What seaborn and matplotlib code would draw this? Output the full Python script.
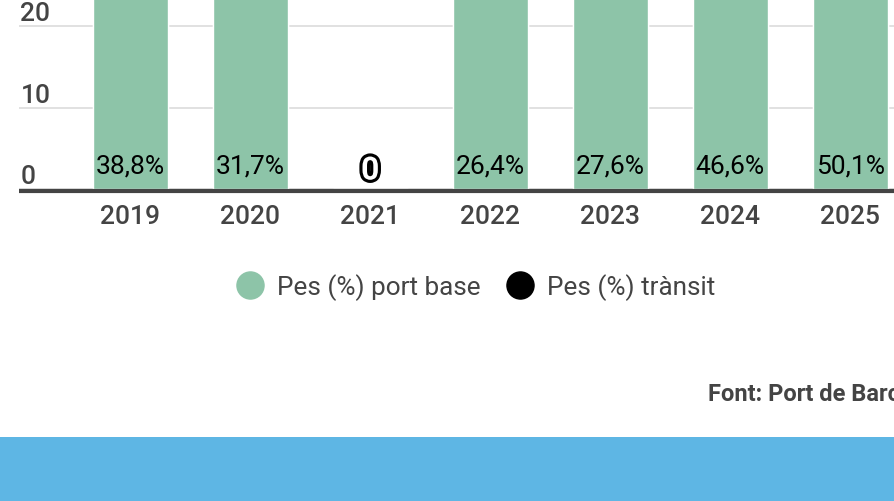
import matplotlib
matplotlib.use("Agg")
import matplotlib.pyplot as plt
import matplotlib.patheffects as pe
from matplotlib.lines import Line2D
import seaborn as sns
import pandas as pd

# ---- data ----
years = ["2019", "2020", "2021", "2022", "2023", "2024", "2025"]
port_base = [38.8, 31.7, 0.0, 26.4, 27.6, 46.6, 50.1]
transit = [61.2, 68.3, 0.0, 73.6, 72.4, 53.4, 49.9]
y_ticks = [0, 10, 20]
series_names = ["Pes (%) port base", "Pes (%) tr\u00e0nsit"]
source_text = "Font: Port de Barcelona"

GREEN = "#8dc4a8"
BLACK = "#000000"
GREY_TXT = "#444444"
BLUE = "#5eb6e4"

sns.set_style("white")
plt.rcParams["font.family"] = ["Roboto", "DejaVu Sans"]

df = pd.DataFrame({"year": years, "base": port_base, "transit": transit})
df["total"] = df["base"] + df["transit"]

W, H = 895, 502
fig = plt.figure(figsize=(W / 100, H / 100), dpi=100)
fig.patch.set_facecolor("white")

base_px = 190.0
ax = fig.add_axes([19 / W, (H - base_px) / H, 1 - 19 / W, base_px / H])

sns.barplot(data=df, x="year", y="total", color=BLACK, saturation=1,
            width=0.625, errorbar=None, ax=ax, zorder=2)
sns.barplot(data=df, x="year", y="base", color=GREEN, saturation=1,
            width=0.625, errorbar=None, ax=ax, zorder=3)

px_per_unit = 8.15
ax.set_ylim(0, base_px / px_per_unit)
ax.set_xlim((19 - 130.2) / 120, (W - 130.2) / 120)

ax.set_yticks(y_ticks)
ax.set_yticklabels([])
ax.yaxis.grid(True, color="#dcdcdc", linewidth=1.2, zorder=0)
ax.set_axisbelow(True)
ax.tick_params(axis="y", length=0)
ax.tick_params(axis="x", length=0, pad=11, labelsize=19, labelcolor=GREY_TXT)
for t in ax.get_xticklabels():
    t.set_fontweight("medium")
ax.set_xlabel("")
ax.set_ylabel("")
for s in ax.spines.values():
    s.set_visible(False)

# y labels above gridlines, left aligned
for t in y_ticks:
    ax.annotate(str(t), xy=(0, t), xycoords=("axes fraction", "data"),
                xytext=(1, 0.5), textcoords="offset points",
                ha="left", va="bottom", fontsize=19, color=GREY_TXT,
                fontweight="medium")

# bar value labels
for i, v in enumerate(port_base):
    if v == 0:
        ax.annotate("0", xy=(i, 0), xytext=(0, 13.3), textcoords="offset points",
                    ha="center", va="center", fontsize=23, fontweight="bold",
                    color="white", zorder=6,
                    path_effects=[pe.Stroke(linewidth=4.5, foreground="black"), pe.Normal()])
    else:
        lab = f"{v:.1f}%".replace(".", ",")
        ax.annotate(lab, xy=(i, 0), xytext=(0, 17.2), textcoords="offset points",
                    ha="center", va="center", fontsize=19, color="black", zorder=6)

# baseline
fig.add_artist(Line2D([19 / W, 1], [1 - 191.8 / H, 1 - 191.8 / H],
                      color="#444444", linewidth=3.0, solid_capstyle="butt", zorder=10))

# legend
handles = [Line2D([], [], marker="o", linestyle="", markersize=19.5,
                  markerfacecolor=c, markeredgecolor=c) for c in (GREEN, BLACK)]
leg = fig.legend(handles, series_names, loc="center",
                 bbox_to_anchor=(476 / W, 1 - 288 / H), ncol=2, frameon=False,
                 handlelength=1.0, handletextpad=0.55,
                 columnspacing=1.0, borderaxespad=0, borderpad=0,
                 prop={"size": 18.8, "weight": "regular"})
for t in leg.get_texts():
    t.set_color(GREY_TXT)

# source
fig.text(708 / W, 1 - 395 / H, source_text, ha="left", va="center",
         fontsize=17, fontweight="bold", color=GREY_TXT)

# blue band
fig.add_artist(plt.Rectangle((0, 0), 1, (H - 438) / H, transform=fig.transFigure,
                             facecolor=BLUE, edgecolor="none", zorder=0))

fig.savefig("out.png", dpi=100)
